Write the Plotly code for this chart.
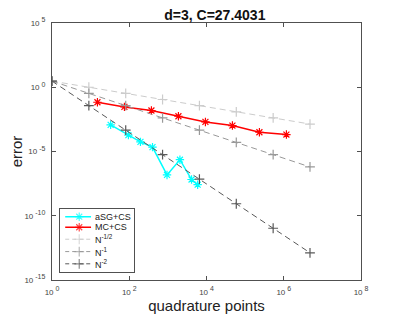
import plotly.graph_objects as go

# Data
ref_N = [1, 9, 81, 729, 6561, 59049, 531441, 4782969]
ref_half = [3.0, 1.0, 0.333, 0.111, 0.037, 0.0123, 0.00412, 0.00137]
ref_one = [3.0, 0.333, 0.037, 0.00412, 4.57e-4, 5.08e-5, 5.64e-6, 6.27e-7]
ref_two = [3.0, 0.037, 4.57e-4, 5.64e-6, 6.97e-8, 8.6e-10, 1.06e-11, 1.31e-13]

mc_N = [15, 75, 375, 1875, 9375, 46875, 234375, 1171875]
mc_err = [0.068, 0.0295, 0.0155, 0.00556, 0.0020, 0.00105, 0.000316, 0.000209]

sg_N = [33, 95, 195, 400, 950, 2050, 4100, 5900]
sg_err = [1.17e-3, 1.9e-4, 5.6e-5, 2.2e-5, 1.5e-7, 2.3e-6, 6.6e-8, 2.6e-8]

x_exps = ["0", "2", "4", "6", "8"]
x_tickvals = [1, 1e2, 1e4, 1e6, 1e8]
y_exps = ["-15", "-10", "-5", "0", "5"]
y_tickvals = [1e-15, 1e-10, 1e-5, 1, 1e5]


def sup_label(e):
    return "10<sup><span style=\"font-size:7px\"> " + e + "</span></sup>"


x_ticktext = [sup_label(e) for e in x_exps]
y_ticktext = [sup_label(e) for e in y_exps]

legend_names = ["aSG+CS", "MC+CS", "N<sup>-1/2</sup>", "N<sup>-1</sup>", "N<sup>-2</sup>"]
legend_rows = [0.878, 0.71, 0.519, 0.322, 0.127]

sg_style = dict(color="#00FFFF", dash="solid", symbol="asterisk-open", msize=7, width=1.5)
mc_style = dict(color="#FF0000", dash="solid", symbol="asterisk-open", msize=7, width=1.5)
h_style = dict(color="#cccccc", dash="6px,4px", symbol="cross-thin-open", msize=7, width=1)
o_style = dict(color="#999999", dash="6px,4px", symbol="cross-thin-open", msize=7, width=1)
t_style = dict(color="#595959", dash="6px,4px", symbol="cross-thin-open", msize=7, width=1)
styles = [sg_style, mc_style, h_style, o_style, t_style]

fig = go.Figure()
series = [(sg_N, sg_err), (mc_N, mc_err), (ref_N, ref_half), (ref_N, ref_one), (ref_N, ref_two)]
for (xs, ys), st, nm in zip(series, styles, legend_names):
    fig.add_trace(go.Scatter(x=xs, y=ys, name=nm, mode="lines+markers", showlegend=False,
                             line=dict(color=st["color"], width=st["width"], dash=st["dash"]),
                             marker=dict(symbol=st["symbol"], size=st["msize"],
                                         line=dict(color=st["color"], width=1.2))))

# Compact legend drawn in an inset axis
for st, nm, ry in zip(styles, legend_names, legend_rows):
    fig.add_trace(go.Scatter(x=[0.07, 0.26, 0.42], y=[ry, ry, ry], xaxis="x2", yaxis="y2",
                             mode="lines+markers", showlegend=False, hoverinfo="skip",
                             line=dict(color=st["color"], width=st["width"],
                                       dash="4px,3px" if st["dash"] != "solid" else "solid"),
                             marker=dict(symbol=st["symbol"], size=[0, st["msize"], 0],
                                         line=dict(color=st["color"], width=1.2))))
    fig.add_annotation(x=0.44, y=ry, xref="x2", yref="y2", text=nm, showarrow=False,
                       xanchor="left", yanchor="middle",
                       font=dict(size=9, color="#222222"))

font_fam = "Liberation Sans, Arial, Helvetica, sans-serif"
axis_common = dict(type="log", showgrid=False, zeroline=False, showline=True,
                   linecolor="#505050", linewidth=1, mirror="ticks",
                   ticks="inside", ticklen=4, tickcolor="#505050",
                   automargin=False,
                   tickfont=dict(size=8, color="#444444", family=font_fam))

# The page body has an 8px margin: the figure is sized/offset to compensate.
fig.update_layout(
    width=391, height=307,
    margin=dict(l=44, r=38, t=15, b=35),
    paper_bgcolor="white", plot_bgcolor="white",
    font=dict(family=font_fam, color="#222222"),
    title=dict(text="<b>d=3, C=27.4031</b>", x=0.529, xref="container", xanchor="center",
               y=0.993, yref="container", yanchor="top", pad=dict(t=0, b=0),
               font=dict(size=14, color="#111111")),
    xaxis=dict(range=[0, 8], tickvals=x_tickvals, ticktext=x_ticktext,
               ticklabelstandoff=4,
               title=dict(text="quadrature points", standoff=4,
                          font=dict(size=15, color="#222222")),
               **axis_common),
    yaxis=dict(range=[-15, 5], tickvals=y_tickvals, ticktext=y_ticktext,
               ticklabelstandoff=4,
               title=dict(text="error", standoff=8,
                          font=dict(size=15, color="#222222")),
               **axis_common),
    xaxis2=dict(domain=[0.026, 0.265], range=[0, 1], anchor="y2",
                showgrid=False, zeroline=False, showticklabels=False, ticks="",
                showline=True, mirror=True, linecolor="#505050", linewidth=1,
                fixedrange=True),
    yaxis2=dict(domain=[0.032, 0.276], range=[0, 1], anchor="x2",
                showgrid=False, zeroline=False, showticklabels=False, ticks="",
                showline=True, mirror=True, linecolor="#505050", linewidth=1,
                fixedrange=True),
    showlegend=False,
)

fig.write_html("out.html")
